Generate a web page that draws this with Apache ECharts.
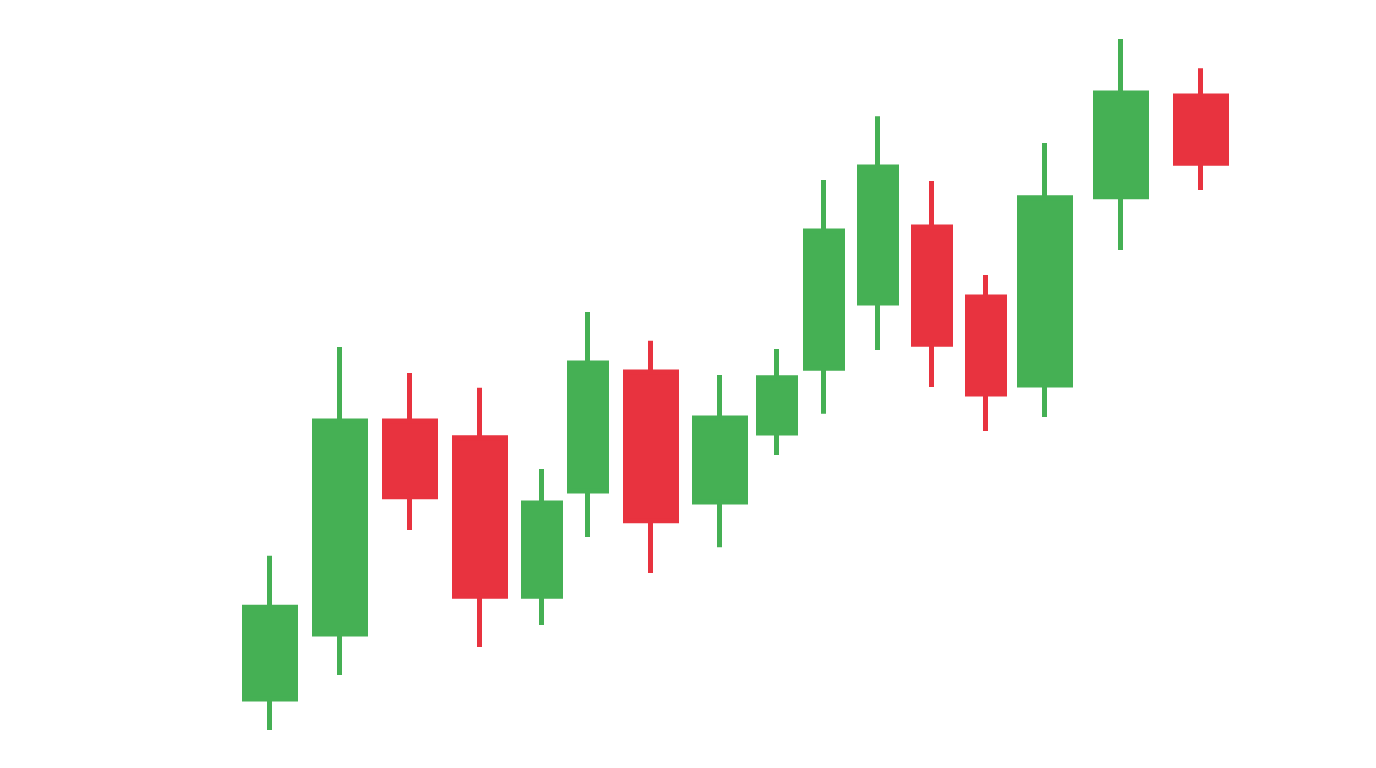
<!DOCTYPE html>
<html>
<head>
<meta charset="utf-8">
<style>html,body{margin:0;padding:0;background:#fff;}#c{width:1376px;height:768px;}</style>
<script src="https://cdn.jsdelivr.net/npm/echarts@6/dist/echarts.min.js"></script>
</head>
<body>
<div id="c"></div>
<script>
// session positions (irregular spacing, in "days")
const days   = [7, 14, 21, 28, 34.2, 38.8, 45.1, 52, 57.7, 62.4, 67.8, 73.2, 78.6, 84.5, 92.1, 100.1];
const opens  = [14.4, 27.9, 72.3, 68.8, 35.8, 57.7, 82.5, 55.4, 69.8, 83.3, 96.9, 112.7, 98.1, 79.8, 119.0, 140.0];
const closes = [33.5, 72.3, 56.5, 35.8, 55.2, 84.4, 51.5, 72.9, 81.3, 111.9, 125.2, 88.3, 77.9, 118.8, 140.6, 126.0];
const lows   = [7.9, 19.4, 49.6, 25.2, 29.8, 48.1, 40.6, 46.0, 65.2, 73.8, 87.1, 79.4, 70.2, 73.1, 107.9, 120.4];
const highs  = [44.2, 87.7, 82.3, 79.2, 62.3, 95.0, 89.0, 81.9, 87.3, 122.5, 135.8, 122.3, 102.7, 130.2, 151.9, 145.8];
const wide   = [1, 1, 1, 1, 0, 0, 1, 1, 0, 0, 0, 0, 0, 1, 1, 1];

const wideData = [], narrowData = [];
days.forEach((d, i) => {
  const item = [d, opens[i], closes[i], lows[i], highs[i]];
  (wide[i] ? wideData : narrowData).push(item);
});

const UP = '#45b054', DOWN = '#e8333f';
const style = {color: UP, color0: DOWN, borderColor: UP, borderColor0: DOWN, borderWidth: 5};

const chart = echarts.init(document.getElementById('c'));
chart.setOption({
  animation: false,
  backgroundColor: '#ffffff',
  grid: {left: 0, right: 0, top: 0, bottom: 0},
  xAxis: {type: 'value', min: -20, max: 117.6, show: false},
  yAxis: {type: 'value', min: 0, max: 160, show: false, scale: true},
  series: [
    {type: 'candlestick', barWidth: 51, encode: {x: 0, y: [1, 2, 3, 4]}, itemStyle: style, data: wideData},
    {type: 'candlestick', barWidth: 38, encode: {x: 0, y: [1, 2, 3, 4]}, itemStyle: style, data: narrowData}
  ]
});
</script>
</body>
</html>
